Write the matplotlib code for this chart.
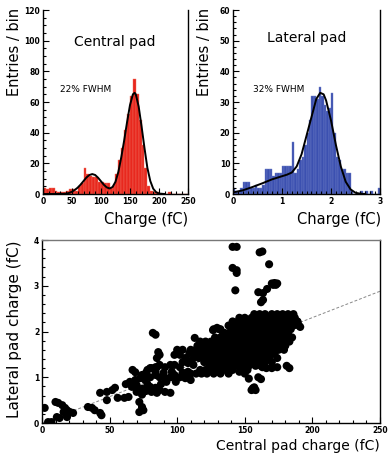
import matplotlib
matplotlib.use("Agg")
import matplotlib.pyplot as plt
from matplotlib.ticker import MultipleLocator

plt.rcParams["font.family"] = ["DejaVu Sans"]

# Central pad histogram (5 fC bins starting at 0)
central_bin_width = 5
central_counts = [4, 3, 4, 4, 2, 1, 1, 1, 2, 3,
                  3, 2, 5, 7, 17, 13, 12, 11, 11, 8,
                  8, 7, 7, 4, 6, 13, 22, 30, 42, 52,
                  64, 75, 65, 48, 32, 17, 5, 2, 1, 1,
                  0, 0, 0, 1, 0, 0, 0, 0, 0, 0]
central_fit_x = [0, 20, 40, 45, 50, 55, 60, 65, 70, 75, 80, 85, 90, 95, 100, 105, 110, 115,
                 120, 125, 130, 135, 140, 145, 150, 155, 158, 160, 165, 170, 175, 180,
                 185, 190, 195, 200, 210]
central_fit_y = [0, 0, 0.2, 0.7, 1.5, 2.7, 4.2, 6.2, 8.5, 10.8, 12.4, 13.0, 12.4, 10.6, 8.3, 6.0,
                 4.3, 3.6, 4.6, 8.0, 14.5, 24, 35, 47, 58, 65, 66, 65, 57, 44, 30, 17,
                 8.5, 3.5, 1.2, 0.3, 0]

# Lateral pad histogram (0.05 fC bins starting at 0)
lateral_bin_width = 0.05
lateral_counts = [2, 1, 1, 2, 4, 4, 4, 2, 2, 3,
                  2, 2, 3, 8, 8, 8, 6, 7, 7, 7,
                  9, 9, 9, 9, 17, 7, 8, 11, 12, 16,
                  20, 24, 32, 32, 31, 35, 32, 29, 27, 28,
                  33, 20, 12, 11, 8, 8, 7, 7, 1, 0,
                  0, 0, 1, 0, 1, 0, 1, 0, 0, 2]
lateral_fit_x = [0, 0.2, 0.4, 0.6, 0.8, 1.0, 1.1, 1.2, 1.3, 1.4, 1.5, 1.6, 1.7, 1.78,
                 1.85, 1.9, 2.0, 2.1, 2.2, 2.3, 2.4, 2.5, 2.6, 2.7]
lateral_fit_y = [0.5, 1.2, 2.3, 3.5, 4.8, 5.8, 6.3, 7.0, 9.0, 13, 19, 25, 31, 33,
                 32.5, 30.5, 24, 16, 9, 4, 1.5, 0.4, 0.1, 0]

# Scatter: central vs lateral pad charge
core_rows_y = [2.38, 2.30, 2.22, 2.13, 2.05, 1.96, 1.87, 1.78, 1.69, 1.60, 1.51, 1.42, 1.33,
               1.25, 1.16, 1.08]
core_rows_x = [
    [157, 161, 165, 170, 174, 178, 182, 186],
    [146, 150, 155, 159, 163, 167, 171, 175, 179, 183, 187],
    [141, 145, 149, 153, 157, 161, 165, 169, 173, 177, 181, 185, 189],
    [138, 142, 146, 150, 154, 158, 162, 166, 170, 174, 178, 182, 186, 190],
    [127, 131, 140, 144, 148, 152, 156, 160, 164, 168, 172, 176, 180, 184],
    [134, 138, 142, 146, 150, 154, 158, 162, 166, 170, 174, 178, 182],
    [128, 132, 136, 140, 144, 148, 152, 156, 160, 164, 168, 172, 176, 180, 185],
    [117, 121, 125, 129, 133, 137, 141, 145, 149, 153, 157, 161, 165, 169, 173, 178, 183],
    [115, 119, 124, 128, 132, 136, 140, 144, 148, 152, 156, 160, 164, 168, 172, 176, 180],
    [110, 114, 118, 122, 126, 130, 134, 138, 142, 146, 150, 154, 158, 162, 166, 170, 175, 179],
    [112, 116, 120, 124, 128, 132, 136, 140, 144, 148, 152, 156, 160, 164, 168, 172],
    [116, 120, 124, 128, 132, 136, 140, 144, 148, 152, 156, 160, 164, 168, 174],
    [120, 124, 128, 132, 136, 140, 144, 148, 152, 156, 160, 165, 170],
    [124, 128, 133, 138, 143, 148, 153, 158, 162],
    [117, 121, 126, 131, 136, 141, 147, 152],
    [106, 110, 114, 118, 122, 127, 132, 138],
]
extra_x = [80, 84, 87, 91, 95, 98, 102, 104, 108, 112,
           80, 84, 87, 91, 95, 98, 102, 106, 110,
           80, 84, 87, 91, 95, 85, 81,
           88, 92, 99, 104, 108, 96, 90, 84, 77,
           100, 104, 98, 102, 109, 113, 111, 106,
           87, 85, 86, 113, 117, 119, 115,
           126.5, 129.5, 132, 135, 138, 82, 84,
           65, 69, 72.5, 66.5, 70, 67, 69, 78, 81, 85,
           62, 74, 76, 78, 74, 70, 77, 74,
           43, 48, 52, 54, 48, 56, 61, 64,
           72, 74, 72, 75,
           34, 37, 39, 43, 44,
           10, 12, 15, 17, 16, 18.5, 20.7, 23, 18.5, 13, 11,
           2, 4.5, 7,
           189, 191, 146, 150, 138,
           153, 160, 157, 155, 158, 156, 162,
           163, 166, 170, 174, 181, 183,
           141, 144, 141, 144, 144, 143,
           161, 163, 168,
           170, 172, 174, 171, 173,
           160, 163.5, 166.5, 162, 163.5]
extra_y = [1.2, 1.22, 1.27, 1.22, 1.27, 1.27, 1.22, 1.33, 1.31, 1.27,
           1.0, 1.05, 1.0, 0.98, 1.0, 1.05, 1.0, 0.98, 0.94,
           0.79, 0.77, 0.72, 0.68, 0.66, 0.66, 0.68,
           0.85, 0.9, 0.9, 1.1, 1.12, 1.12, 1.1, 1.12, 1.1,
           1.6, 1.6, 1.49, 1.49, 1.53, 1.49, 1.38, 1.42,
           1.49, 1.42, 1.55, 1.86, 1.75, 1.66, 1.64,
           2.03, 2.08, 2.05, 1.97, 1.88, 1.97, 1.93,
           0.9, 0.94, 0.98, 0.79, 0.83, 1.16, 1.11, 1.16, 1.2, 1.22,
           0.85, 1.05, 0.95, 0.85, 0.75, 0.68, 0.7, 0.62,
           0.66, 0.68, 0.72, 0.77, 0.5, 0.55, 0.55, 0.57,
           0.46, 0.35, 0.24, 0.28,
           0.35, 0.33, 0.28, 0.22, 0.17,
           0.46, 0.44, 0.39, 0.33, 0.24, 0.28, 0.24, 0.22, 0.13, 0.11, 0.13,
           0.33, 0.02, 0.02,
           2.2, 2.1, 1.12, 1.08, 1.1,
           0.97, 1.0, 0.78, 0.72, 0.72, 0.76, 0.96,
           1.22, 1.2, 1.2, 1.22, 1.25, 1.2,
           3.85, 3.85, 3.39, 3.34, 3.28, 2.9,
           3.73, 3.75, 3.47,
           3.05, 3.06, 3.05, 3.02, 3.02,
           2.86, 2.84, 2.93, 2.64, 2.69]
line_x = [0, 250]
line_y = [0, 2.88]

scatter_x = [x for row in core_rows_x for x in row] + extra_x
scatter_y = [y for y, row in zip(core_rows_y, core_rows_x) for _ in row] + extra_y


def style_axis(ax, xmaj, xmin, ymaj, ymin):
    ax.xaxis.set_major_locator(MultipleLocator(xmaj))
    ax.xaxis.set_minor_locator(MultipleLocator(xmin))
    ax.yaxis.set_major_locator(MultipleLocator(ymaj))
    ax.yaxis.set_minor_locator(MultipleLocator(ymin))
    ax.tick_params(which="both", direction="in", width=0.8, labelsize=5.5, pad=2)
    ax.tick_params(which="major", length=4)
    ax.tick_params(which="minor", length=2)
    for lab in ax.get_xticklabels() + ax.get_yticklabels():
        lab.set_fontweight("bold")
    for sp in ax.spines.values():
        sp.set_linewidth(1.0)


fig = plt.figure(figsize=(3.88, 4.55), dpi=100)

# Central pad
ax1 = fig.add_axes([0.1108, 0.5736, 0.3737, 0.4044])
centers = [i * central_bin_width for i in range(len(central_counts))]
ax1.bar(centers, central_counts, width=central_bin_width, align="edge",
        color="#e8281e", edgecolor="#f07060", linewidth=0.3)
ax1.plot(central_fit_x, central_fit_y, color="black", linewidth=1.4)
ax1.set_xlim(0, 250)
ax1.set_ylim(0, 120)
ax1.spines["top"].set_visible(False)
style_axis(ax1, 50, 10, 20, 5)
ax1.text(124, 99, "Central pad", ha="center", va="center", fontsize=10)
ax1.text(29, 68, "22% FWHM", ha="left", va="center", fontsize=6.5)

# Lateral pad
ax2 = fig.add_axes([0.6005, 0.5736, 0.3789, 0.4044])
edges = [i * lateral_bin_width for i in range(len(lateral_counts))]
ax2.bar(edges, lateral_counts, width=lateral_bin_width, align="edge",
        color="#3b50b0", edgecolor="#7080c8", linewidth=0.3)
ax2.plot(lateral_fit_x, lateral_fit_y, color="black", linewidth=1.4)
ax2.set_xlim(0, 3)
ax2.set_ylim(0, 60)
ax2.spines["top"].set_visible(False)
style_axis(ax2, 1, 0.1, 10, 2)
ax2.text(1.51, 51, "Lateral pad", ha="center", va="center", fontsize=10)
ax2.text(0.41, 34, "32% FWHM", ha="left", va="center", fontsize=6.5)

# Scatter
ax3 = fig.add_axes([0.1082, 0.0703, 0.8711, 0.4022])
ax3.plot(line_x, line_y, color="#888888", linestyle=(0, (3, 2)), linewidth=0.7, zorder=1)
ax3.scatter(scatter_x, scatter_y, s=34, color="black", edgecolors="none", zorder=2)
ax3.set_xlim(0, 250)
ax3.set_ylim(0, 4)
style_axis(ax3, 50, 10, 1, 0.2)
ax3.spines["top"].set_color("#777777")

# Axis titles (ROOT style, aligned to the axis end)
fig.text(15 / 388, 1 - 8 / 455, "Entries / bin", rotation=90, ha="center", va="top", fontsize=10.5)
fig.text(205 / 388, 1 - 8 / 455, "Entries / bin", rotation=90, ha="center", va="top", fontsize=10.5)
fig.text(188 / 388, 1 - 219 / 455, "Charge (fC)", ha="right", va="center", fontsize=10.5)
fig.text(381 / 388, 1 - 219 / 455, "Charge (fC)", ha="right", va="center", fontsize=10.5)
fig.text(380 / 388, 1 - 446 / 455, "Central pad charge (fC)", ha="right", va="center", fontsize=10)
fig.text(15 / 388, 1 - 240 / 455, "Lateral pad charge (fC)", rotation=90, ha="center", va="top", fontsize=11)

fig.savefig("out.png", dpi=100)
